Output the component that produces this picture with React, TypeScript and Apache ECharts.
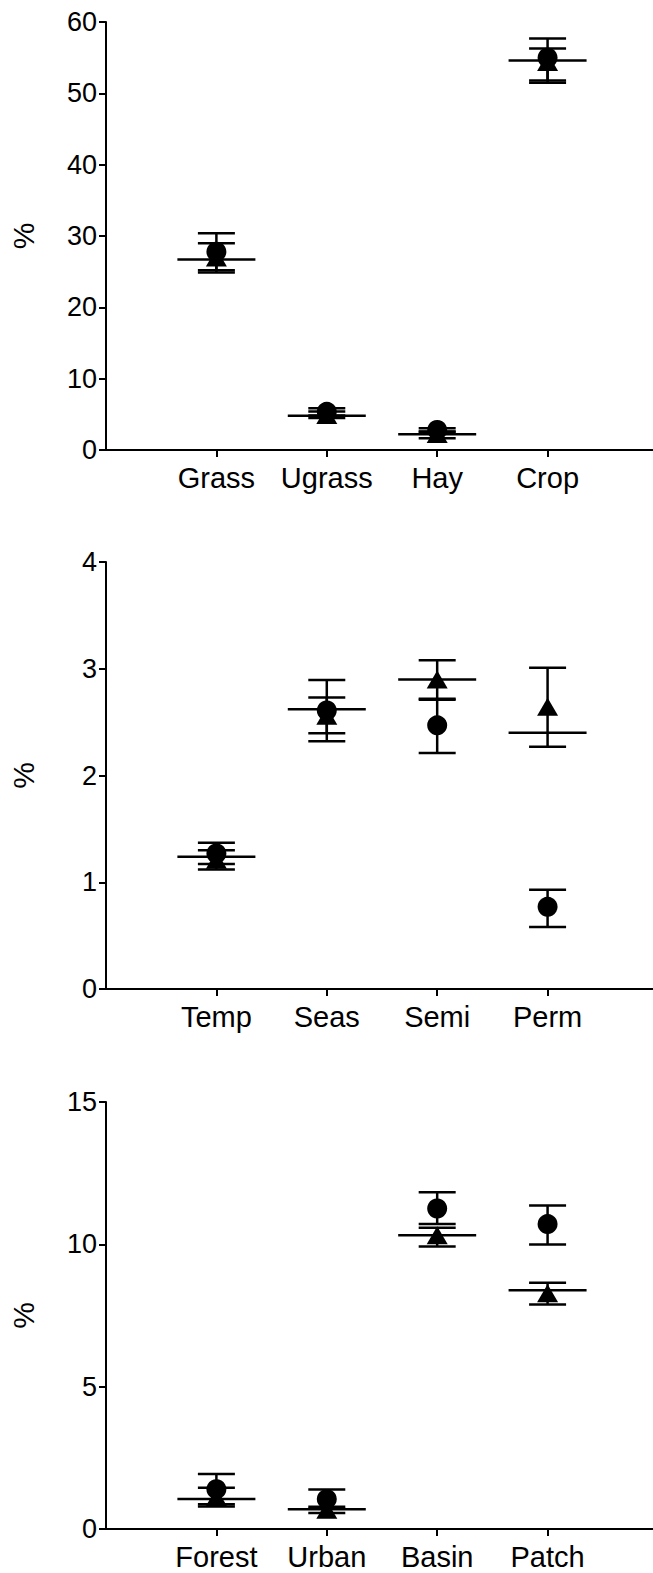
import React, { useEffect, useRef } from 'react';
import * as echarts from 'echarts';

// ---- Panel 1: land use ----
const landCategories = ['Grass', 'Ugrass', 'Hay', 'Crop'];
const landCircleMean = [27.8, 5.35, 2.8, 55.0];
const landCircleLow = [25.2, 4.85, 2.55, 51.8];
const landCircleHigh = [30.4, 5.85, 3.05, 57.7];
const landTriangleMean = [27.0, 4.9, 2.25, 54.4];
const landTriangleLow = [24.9, 4.5, 1.65, 51.5];
const landTriangleHigh = [29.0, 5.4, 2.6, 56.3];
const landLine = [26.7, 4.8, 2.2, 54.6];
const landTicks = [0, 10, 20, 30, 40, 50, 60];

// ---- Panel 2: water ----
const waterCategories = ['Temp', 'Seas', 'Semi', 'Perm'];
const waterCircleMean = [1.27, 2.61, 2.47, 0.77];
const waterCircleLow = [1.17, 2.32, 2.21, 0.58];
const waterCircleHigh = [1.37, 2.895, 2.72, 0.93];
const waterTriangleMean = [1.21, 2.56, 2.9, 2.645];
const waterTriangleLow = [1.12, 2.395, 2.71, 2.27];
const waterTriangleHigh = [1.3, 2.73, 3.08, 3.01];
const waterLine = [1.24, 2.62, 2.9, 2.4];
const waterTicks = [0, 1, 2, 3, 4];

// ---- Panel 3: other habitats ----
const habitatCategories = ['Forest', 'Urban', 'Basin', 'Patch'];
const habitatCircleMean = [1.4, 1.05, 11.26, 10.71];
const habitatCircleLow = [0.87, 0.71, 10.71, 9.99];
const habitatCircleHigh = [1.93, 1.39, 11.83, 11.36];
const habitatTriangleMean = [1.12, 0.68, 10.32, 8.28];
const habitatTriangleLow = [0.79, 0.56, 9.92, 7.89];
const habitatTriangleHigh = [1.45, 0.78, 10.58, 8.65];
const habitatLine = [1.05, 0.69, 10.32, 8.39];
const habitatTicks = [0, 5, 10, 15];

const FONT = '"Liberation Sans", Arial, Helvetica, sans-serif';
const INK = '#000';

interface PanelData {
  categories: string[];
  circleMean: number[];
  circleLow: number[];
  circleHigh: number[];
  triMean: number[];
  triLow: number[];
  triHigh: number[];
  line: number[];
  ticks: number[];
}

const panels: PanelData[] = [
  {
    categories: landCategories,
    circleMean: landCircleMean,
    circleLow: landCircleLow,
    circleHigh: landCircleHigh,
    triMean: landTriangleMean,
    triLow: landTriangleLow,
    triHigh: landTriangleHigh,
    line: landLine,
    ticks: landTicks,
  },
  {
    categories: waterCategories,
    circleMean: waterCircleMean,
    circleLow: waterCircleLow,
    circleHigh: waterCircleHigh,
    triMean: waterTriangleMean,
    triLow: waterTriangleLow,
    triHigh: waterTriangleHigh,
    line: waterLine,
    ticks: waterTicks,
  },
  {
    categories: habitatCategories,
    circleMean: habitatCircleMean,
    circleLow: habitatCircleLow,
    circleHigh: habitatCircleHigh,
    triMean: habitatTriangleMean,
    triLow: habitatTriangleLow,
    triHigh: habitatTriangleHigh,
    line: habitatLine,
    ticks: habitatTicks,
  },
];

const gridTops = [22, 562, 1102];
const gridHeights = [428, 427, 427];

function errorBarItem(params: any, api: any) {
  const x = api.value(0);
  const lo = api.coord([x, api.value(1)]);
  const hi = api.coord([x, api.value(2)]);
  const hw = 18.5;
  const style = { stroke: INK, lineWidth: 2.5 };
  return {
    type: 'group',
    children: [
      { type: 'line', shape: { x1: lo[0], y1: lo[1], x2: hi[0], y2: hi[1] }, style },
      { type: 'line', shape: { x1: lo[0] - hw, y1: lo[1], x2: lo[0] + hw, y2: lo[1] }, style },
      { type: 'line', shape: { x1: hi[0] - hw, y1: hi[1], x2: hi[0] + hw, y2: hi[1] }, style },
    ],
  };
}

function longLineItem(params: any, api: any) {
  const p = api.coord([api.value(0), api.value(1)]);
  const hw = 39;
  return {
    type: 'line',
    shape: { x1: p[0] - hw, y1: p[1], x2: p[0] + hw, y2: p[1] },
    style: { stroke: INK, lineWidth: 2.5 },
  };
}

function buildOption() {
  const grid: any[] = [];
  const xAxis: any[] = [];
  const yAxis: any[] = [];
  const series: any[] = [];

  panels.forEach((p, k) => {
    const positions = p.categories.map((_, i) => i + 1);
    const yMax = p.ticks[p.ticks.length - 1];
    const yInterval = p.ticks[1] - p.ticks[0];

    grid.push({
      left: 103,
      top: gridTops[k],
      width: 550,
      height: gridHeights[k],
      containLabel: false,
    });

    xAxis.push({
      type: 'value',
      gridIndex: k,
      min: 0,
      max: 4.955,
      interval: 1,
      splitLine: { show: false },
      axisLine: { show: true, onZero: false, lineStyle: { color: INK, width: 2 } },
      axisTick: {
        show: true,
        length: 7,
        inside: false,
        customValues: positions,
        lineStyle: { color: INK, width: 2 },
      },
      axisLabel: {
        show: true,
        margin: 13,
        color: INK,
        fontFamily: FONT,
        fontSize: 29,
        customValues: positions,
        formatter: (v: number) => {
          const idx = Math.round(v) - 1;
          return Math.abs(v - Math.round(v)) < 1e-6 && idx >= 0 && idx < p.categories.length
            ? p.categories[idx]
            : '';
        },
      },
    });

    yAxis.push({
      type: 'value',
      gridIndex: k,
      min: 0,
      max: yMax,
      interval: yInterval,
      name: '%',
      nameLocation: 'middle',
      nameGap: 68,
      nameRotate: 90,
      nameTextStyle: { color: INK, fontFamily: FONT, fontSize: 30 },
      splitLine: { show: false },
      axisLine: { show: true, onZero: false, lineStyle: { color: INK, width: 2 } },
      axisTick: { show: true, length: 7, inside: false, lineStyle: { color: INK, width: 2 } },
      axisLabel: { show: true, margin: 9, color: INK, fontFamily: FONT, fontSize: 27 },
    });

    series.push({
      type: 'custom',
      name: `line-${k}`,
      xAxisIndex: k,
      yAxisIndex: k,
      renderItem: longLineItem,
      encode: { x: 0, y: 1 },
      data: positions.map((x, i) => [x, p.line[i]]),
      z: 1,
    });
    series.push({
      type: 'custom',
      name: `tri-err-${k}`,
      xAxisIndex: k,
      yAxisIndex: k,
      renderItem: errorBarItem,
      encode: { x: 0, y: [1, 2] },
      data: positions.map((x, i) => [x, p.triLow[i], p.triHigh[i]]),
      z: 2,
    });
    series.push({
      type: 'custom',
      name: `circle-err-${k}`,
      xAxisIndex: k,
      yAxisIndex: k,
      renderItem: errorBarItem,
      encode: { x: 0, y: [1, 2] },
      data: positions.map((x, i) => [x, p.circleLow[i], p.circleHigh[i]]),
      z: 2,
    });
    series.push({
      type: 'scatter',
      name: `triangle-${k}`,
      xAxisIndex: k,
      yAxisIndex: k,
      symbol: 'triangle',
      symbolSize: [21, 18],
      itemStyle: { color: INK, opacity: 1 },
      data: positions.map((x, i) => [x, p.triMean[i]]),
      z: 3,
    });
    series.push({
      type: 'scatter',
      name: `circle-${k}`,
      xAxisIndex: k,
      yAxisIndex: k,
      symbol: 'circle',
      symbolSize: 20,
      itemStyle: { color: INK, opacity: 1 },
      data: positions.map((x, i) => [x, p.circleMean[i]]),
      z: 4,
    });
  });

  return {
    animation: false,
    backgroundColor: '#fff',
    textStyle: { fontFamily: FONT },
    grid,
    xAxis,
    yAxis,
    series,
  };
}

export default function App() {
  const ref = useRef<HTMLDivElement>(null);
  useEffect(() => {
    if (!ref.current) return;
    const chart = echarts.init(ref.current, undefined, { renderer: 'svg' });
    chart.setOption(buildOption() as any);
    return () => chart.dispose();
  }, []);
  return (
    <div
      ref={ref}
      style={{ position: 'absolute', left: 0, top: 0, width: 653, height: 1573, background: '#fff' }}
    />
  );
}
